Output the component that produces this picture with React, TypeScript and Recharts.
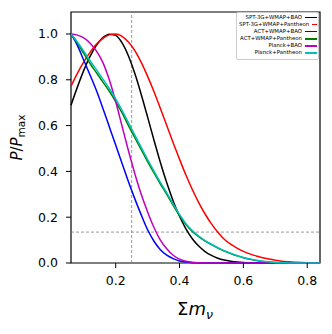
import React from "react"
import { LineChart, Line, XAxis, YAxis, ReferenceLine, ReferenceArea, Label } from "recharts"

// neutrino mass grid (eV)
const massGrid = [
  0.06, 0.08, 0.1, 0.12, 0.14, 0.16, 0.18, 0.2, 0.22, 0.24, 0.26, 0.28, 0.3, 0.32, 0.34, 0.36, 0.38, 0.4, 0.42, 0.44,
  0.46, 0.48, 0.5, 0.52, 0.54, 0.56, 0.58, 0.6, 0.62, 0.64, 0.66, 0.68, 0.7, 0.72, 0.74, 0.76, 0.78, 0.8, 0.82, 0.84,
]

const sptWmapBao = [
  0.689, 0.768, 0.841, 0.903, 0.952, 0.984, 0.999, 0.994, 0.961, 0.904, 0.827, 0.736, 0.637, 0.536, 0.439, 0.35, 0.271,
  0.204, 0.149, 0.106, 0.074, 0.05, 0.033, 0.021, 0.013, 0.008, 0.0045, 0.0025, 0.0013, 0.0006, 0.0003, 0.0001, 0, 0, 0,
  0, 0, 0, 0, 0,
]
const sptWmapPantheon = [
  0.772, 0.828, 0.878, 0.921, 0.956, 0.981, 0.996, 1.0, 0.99, 0.965, 0.927, 0.876, 0.815, 0.748, 0.675, 0.6, 0.525,
  0.453, 0.384, 0.321, 0.264, 0.214, 0.171, 0.1345, 0.104, 0.082, 0.065, 0.051, 0.04, 0.031, 0.023, 0.017, 0.012, 0.008,
  0.0055, 0.0035, 0.002, 0.001, 0.0005, 0.0002,
]
const actWmapBao = [
  1.0, 0.95, 0.885, 0.82, 0.752, 0.675, 0.595, 0.515, 0.435, 0.355, 0.28, 0.21, 0.145, 0.095, 0.058, 0.034, 0.019, 0.009,
  0.004, 0.0015, 0.0005, 0, 0, 0, 0, 0, 0, 0, 0, 0, 0, 0, 0, 0, 0, 0, 0, 0, 0, 0,
]
const actWmapPantheon = [
  1.0, 0.96, 0.915, 0.87, 0.83, 0.79, 0.75, 0.705, 0.655, 0.6, 0.547, 0.495, 0.443, 0.393, 0.345, 0.3, 0.252, 0.207,
  0.168, 0.138, 0.115, 0.096, 0.08, 0.065, 0.052, 0.041, 0.031, 0.023, 0.016, 0.011, 0.007, 0.004, 0.002, 0.001, 0.0004,
  0, 0, 0, 0, 0,
]
const planckBao = [
  1.0, 0.995, 0.983, 0.96, 0.925, 0.875, 0.8, 0.705, 0.597, 0.49, 0.39, 0.3, 0.223, 0.155, 0.1, 0.062, 0.034, 0.017,
  0.008, 0.003, 0.001, 0, 0, 0, 0, 0, 0, 0, 0, 0, 0, 0, 0, 0, 0, 0, 0, 0, 0, 0,
]
const planckPantheon = [
  1.0, 0.965, 0.925, 0.883, 0.843, 0.803, 0.762, 0.717, 0.667, 0.613, 0.558, 0.505, 0.452, 0.401, 0.352, 0.306, 0.258,
  0.212, 0.172, 0.142, 0.118, 0.098, 0.082, 0.067, 0.054, 0.043, 0.033, 0.024, 0.017, 0.012, 0.008, 0.005, 0.0025,
  0.0012, 0.0005, 0, 0, 0, 0, 0,
]

const xTicks = [0.2, 0.4, 0.6, 0.8]
const yTicks = [0, 0.2, 0.4, 0.6, 0.8, 1.0]
const massLimit = 0.25
const probLevel = 0.135

const series = [
  { key: "sptBao", name: "SPT-3G+WMAP+BAO", color: "#000000", values: sptWmapBao },
  { key: "sptPan", name: "SPT-3G+WMAP+Pantheon", color: "#ff0000", values: sptWmapPantheon },
  { key: "actBao", name: "ACT+WMAP+BAO", color: "#0000ff", values: actWmapBao },
  { key: "actPan", name: "ACT+WMAP+Pantheon", color: "#008000", values: actWmapPantheon },
  { key: "plBao", name: "Planck+BAO", color: "#bf00bf", values: planckBao },
  { key: "plPan", name: "Planck+Pantheon", color: "#00bfbf", values: planckPantheon },
]

const rows = massGrid.map((m, i) => {
  const row: Record<string, number> = { m }
  series.forEach((s) => (row[s.key] = s.values[i]))
  return row
})

const FONT = "DejaVu Sans, sans-serif"

function LegendBox() {
  return (
    <div
      style={{
        position: "absolute",
        left: 236,
        top: 12,
        width: 83,
        boxSizing: "border-box",
        border: "1px solid #cccccc",
        borderRadius: 2,
        background: "rgba(255,255,255,0.8)",
        padding: "1px 1.5px 2px 2px",
        fontFamily: FONT,
        fontSize: 5.4,
        lineHeight: "7.1px",
        color: "#000",
      }}
    >
      {series.map((s) => (
        <div key={s.key} style={{ display: "flex", justifyContent: "flex-end", alignItems: "center" }}>
          <span style={{ whiteSpace: "nowrap" }}>{s.name}</span>
          <span style={{ display: "inline-block", width: 12, height: 1.5, background: s.color, marginLeft: 2.5 }} />
        </div>
      ))}
    </div>
  )
}

export default function App() {
  return (
    <div style={{ position: "absolute", left: 0, top: 0, width: 332, height: 334, background: "#fff" }}>
      <LineChart width={332} height={334} data={rows} margin={{ top: 12, right: 12, bottom: 0, left: 0 }}>
        <XAxis
          dataKey="m"
          type="number"
          domain={[0.06, 0.84]}
          ticks={xTicks}
          tickFormatter={(v: number) => v.toFixed(1)}
          axisLine={false}
          tickLine={{ stroke: "#000", strokeWidth: 1 }}
          tickSize={5}
          tickMargin={8}
          height={71}
          tick={{ fill: "#000", fontSize: 12.5, fontFamily: FONT }}
        >
          <Label
            content={() => (
              <text x={195} y={315} textAnchor="middle" fontFamily={FONT} fontSize={18} fill="#000">
                Σ<tspan fontStyle="italic">m</tspan>
                <tspan fontStyle="italic" fontSize={12.5} dy={4}>
                  ν
                </tspan>
              </text>
            )}
          />
        </XAxis>
        <YAxis
          type="number"
          domain={[0, 1.096]}
          ticks={yTicks}
          tickFormatter={(v: number) => v.toFixed(1)}
          axisLine={false}
          tickLine={{ stroke: "#000", strokeWidth: 1 }}
          tickSize={5}
          tickMargin={8}
          width={71}
          tick={{ fill: "#000", fontSize: 12.5, fontFamily: FONT }}
        >
          <Label
            content={() => (
              <text
                x={22}
                y={137.5}
                transform="rotate(-90 22 137.5)"
                textAnchor="middle"
                fontFamily={FONT}
                fontSize={15}
                fill="#000"
              >
                <tspan fontStyle="italic">P</tspan>/<tspan fontStyle="italic">P</tspan>
                <tspan fontSize={10.5} dy={3}>
                  max
                </tspan>
              </text>
            )}
          />
        </YAxis>
        <ReferenceLine x={massLimit} stroke="#808080" strokeWidth={0.8} strokeDasharray="3 2" />
        <ReferenceLine y={probLevel} stroke="#808080" strokeWidth={0.8} strokeDasharray="3 2" />
        {series.map((s) => (
          <Line
            key={s.key}
            dataKey={s.key}
            name={s.name}
            type="monotone"
            stroke={s.color}
            strokeWidth={1.5}
            dot={false}
            activeDot={false}
            isAnimationActive={false}
          />
        ))}
        <ReferenceArea x1={0.06} x2={0.84} y1={0} y2={1.096} fill="none" stroke="#000" strokeWidth={1.2} />
      </LineChart>
      <LegendBox />
    </div>
  )
}
